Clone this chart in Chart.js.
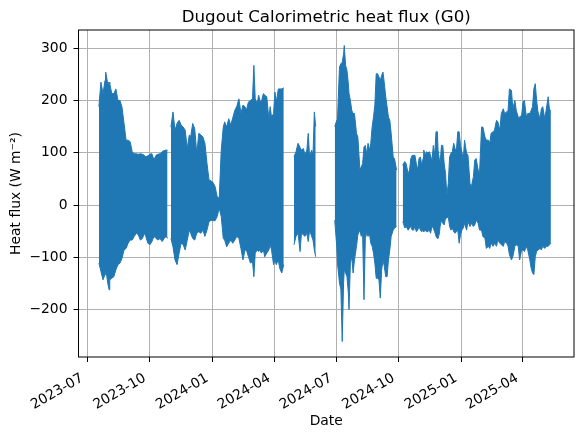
<!DOCTYPE html>
<html>
<head>
<meta charset="utf-8">
<title>Dugout Calorimetric heat flux (G0)</title>
<script src="https://cdn.jsdelivr.net/npm/chart.js@4.4.1/dist/chart.umd.min.js"></script>
<style>
  html, body { margin: 0; padding: 0; background: #fff; }
  #chart { display: block; }
</style>
</head>
<body>
<canvas id="chart" width="583" height="437"></canvas>
<script>
// ===== DATA (daily envelope of the half-hourly G0 record) =====
// null entries mark the gaps in the record
const dates = [
  '2023-07-18', '2023-07-21', '2023-07-24', '2023-07-27', '2023-07-28', '2023-07-31', '2023-08-02', '2023-08-03',
  '2023-08-06', '2023-08-09', '2023-08-12', '2023-08-15', '2023-08-18', '2023-08-21', '2023-08-24', '2023-08-27',
  '2023-08-30', '2023-09-02', '2023-09-05', '2023-09-08', '2023-09-11', '2023-09-14', '2023-09-17', '2023-09-20',
  '2023-09-23', '2023-09-25', '2023-09-28', '2023-10-01', '2023-10-04', '2023-10-07', '2023-10-10', '2023-10-13',
  '2023-10-16', '2023-10-19', '2023-10-22', '2023-10-25', '2023-10-27', '2023-10-29',
  '2023-11-01', '2023-11-04', '2023-11-07', '2023-11-10', '2023-11-13', '2023-11-16', '2023-11-19', '2023-11-22',
  '2023-11-25', '2023-11-28', '2023-11-30', '2023-12-03', '2023-12-06', '2023-12-09', '2023-12-12', '2023-12-15',
  '2023-12-18', '2023-12-21', '2023-12-24', '2023-12-27', '2023-12-30', '2024-01-02', '2024-01-05', '2024-01-08',
  '2024-01-11', '2024-01-14', '2024-01-17', '2024-01-19', '2024-01-22', '2024-01-25', '2024-01-28', '2024-01-31',
  '2024-02-03', '2024-02-06', '2024-02-09', '2024-02-12', '2024-02-15', '2024-02-18', '2024-02-20', '2024-02-23',
  '2024-02-26', '2024-02-29', '2024-03-02', '2024-03-04', '2024-03-07', '2024-03-09', '2024-03-11', '2024-03-13',
  '2024-03-16', '2024-03-18', '2024-03-21', '2024-03-24', '2024-03-26', '2024-03-28', '2024-03-31', '2024-04-02',
  '2024-04-04', '2024-04-07', '2024-04-09', '2024-04-12', '2024-04-15', '2024-04-22',
  '2024-04-30', '2024-05-03', '2024-05-06', '2024-05-09', '2024-05-11', '2024-05-14', '2024-05-16', '2024-05-19',
  '2024-05-21', '2024-05-23', '2024-05-26', '2024-05-28', '2024-05-30', '2024-06-01', '2024-06-15',
  '2024-06-29', '2024-07-02', '2024-07-03', '2024-07-05', '2024-07-06', '2024-07-08', '2024-07-10', '2024-07-12',
  '2024-07-13', '2024-07-15', '2024-07-17', '2024-07-19', '2024-07-20', '2024-07-22', '2024-07-24', '2024-07-26',
  '2024-07-28', '2024-07-31', '2024-08-02', '2024-08-05', '2024-08-07', '2024-08-09', '2024-08-11', '2024-08-13',
  '2024-08-15', '2024-08-17', '2024-08-19', '2024-08-21', '2024-08-23', '2024-08-25', '2024-08-27', '2024-08-29',
  '2024-08-31', '2024-09-02', '2024-09-04', '2024-09-06', '2024-09-08', '2024-09-10', '2024-09-12', '2024-09-14',
  '2024-09-16', '2024-09-18', '2024-09-20', '2024-09-23', '2024-09-25', '2024-09-28', '2024-10-03',
  '2024-10-07', '2024-10-08', '2024-10-10', '2024-10-12', '2024-10-15', '2024-10-17', '2024-10-19', '2024-10-21',
  '2024-10-23', '2024-10-25', '2024-10-27', '2024-10-29', '2024-10-31', '2024-11-02', '2024-11-04', '2024-11-06',
  '2024-11-07', '2024-11-09', '2024-11-11', '2024-11-13', '2024-11-15', '2024-11-17', '2024-11-19', '2024-11-21',
  '2024-11-23', '2024-11-25', '2024-11-27', '2024-11-28', '2024-11-30', '2024-12-01', '2024-12-03', '2024-12-05',
  '2024-12-07', '2024-12-09', '2024-12-11', '2024-12-13', '2024-12-15', '2024-12-17', '2024-12-19', '2024-12-21',
  '2024-12-23', '2024-12-25', '2024-12-27', '2024-12-29', '2024-12-31', '2025-01-02', '2025-01-04', '2025-01-06',
  '2025-01-09', '2025-01-11', '2025-01-14', '2025-01-16', '2025-01-19', '2025-01-21', '2025-01-23', '2025-01-26',
  '2025-01-28', '2025-01-31', '2025-02-02', '2025-02-05', '2025-02-07', '2025-02-10', '2025-02-12', '2025-02-14',
  '2025-02-17', '2025-02-19', '2025-02-22', '2025-02-24', '2025-02-27', '2025-03-01', '2025-03-04', '2025-03-06',
  '2025-03-09', '2025-03-11', '2025-03-13', '2025-03-16', '2025-03-18', '2025-03-21', '2025-03-23', '2025-03-26',
  '2025-03-28', '2025-03-31', '2025-04-02', '2025-04-04', '2025-04-07', '2025-04-09', '2025-04-12', '2025-04-14',
  '2025-04-16', '2025-04-18', '2025-04-20', '2025-04-22', '2025-04-24', '2025-04-27', '2025-04-29', '2025-05-01',
  '2025-05-04', '2025-05-06', '2025-05-09', '2025-05-11', '2025-05-13',
]

// daily maxima (W m-2)
const upperFlux = [
  188, 235, 213, 238, 254, 232, 235, 232, 213, 213, 222, 200, 200, 187, 156, 124,
  124, 121, 102, 98, 98, 97, 98, 97, 95, 92, 94, 97, 98, 86, 95, 97,
  98, 102, 104, 105, 105, null,
  149, 178, 143, 156, 162, 153, 149, 143, 108, 134, 130, 156, 146, 98, 137, 134,
  130, 118, 80, 48, 46, 43, 35, 16, 13, 105, 149, 159, 149, 165, 153, 167,
  181, 189, 203, 175, 191, 188, 181, 197, 200, 203, 267, 203, 194, 210, 200, 197,
  213, 210, 207, 165, 188, 168, 175, 216, 197, 222, 222, 222, 224, null,
  92, 102, 118, 110, 105, 108, 96, 105, 137, 92, 105, 96, 178, 150, null,
  150, 162, 162, 232, 264, 270, 273, 289, 305, 267, 257, 232, 213, 200, 181, 175,
  175, 137, 130, 67, 73, 79, 111, 114, 98, 118, 105, 118, 149, 168, 191, 251,
  251, 245, 238, 248, 254, 232, 207, 188, 168, 162, 137, 92, 88, 67, null,
  76, 79, 83, 79, 60, 67, 89, 95, 95, 95, 79, 67, 89, 92, 76, 89,
  105, 95, 102, 99, 102, 95, 83, 114, 95, 140, 140, 105, 86, 79, 114, 114,
  79, 60, 18, 41, 92, 99, 102, 118, 108, 105, 140, 140, 114, 102, 86, 124,
  99, 95, 41, 35, 54, 86, 89, 67, 60, 149, 149, 130, 124, 124, 118, 137,
  140, 143, 162, 159, 143, 175, 184, 175, 178, 181, 222, 219, 184, 200, 181, 168,
  168, 172, 197, 200, 168, 175, 175, 181, 188, 222, 232, 200, 178, 165, 184, 188,
  165, 181, 207, 181, 181,
]

// daily minima (W m-2)
const lowerFlux = [
  -111, -127, -143, -133, -121, -149, -162, -143, -140, -137, -124, -114, -111, -102, -86, -83,
  -73, -67, -67, -60, -54, -57, -67, -64, -54, -60, -73, -76, -70, -60, -64, -67,
  -64, -70, -64, -60, -64, null,
  -64, -80, -105, -114, -92, -73, -76, -86, -67, -48, -54, -64, -67, -54, -51, -54,
  -48, -60, -48, -32, -29, -30, -30, -22, -6, -22, -64, -67, -80, -73, -67, -73,
  -67, -60, -64, -83, -105, -86, -86, -99, -111, -108, -137, -92, -86, -89, -86, -92,
  -86, -99, -92, -86, -76, -86, -114, -105, -114, -105, -121, -130, -114, null,
  -76, -60, -54, -89, -54, -57, -60, -54, -70, -48, -60, -67, -86, -99, null,
  -29, -80, -111, -137, -149, -162, -261, -149, -124, -130, -137, -168, -200, -111, -99, -130,
  -105, -79, -57, -48, -60, -54, -181, -64, -54, -60, -54, -73, -79, -92, -111, -140,
  -140, -143, -178, -124, -105, -118, -137, -137, -105, -86, -60, -48, -44, -41, null,
  -32, -35, -44, -41, -48, -44, -41, -48, -48, -41, -51, -48, -41, -48, -51, -48,
  -51, -48, -51, -51, -48, -54, -41, -44, -51, -60, -64, -64, -54, -41, -29, -35,
  -38, -25, -25, -22, -41, -48, -44, -51, -54, -51, -48, -73, -57, -48, -44, -35,
  -48, -32, -41, -35, -41, -38, -29, -35, -48, -48, -60, -64, -83, -79, -83, -73,
  -79, -73, -79, -67, -73, -76, -79, -70, -73, -79, -95, -105, -99, -79, -76, -79,
  -105, -86, -86, -89, -79, -86, -105, -121, -130, -133, -99, -89, -86, -83, -86, -79,
  -83, -79, -79, -76, -73,
]

const xTickLabels = ['2023-07', '2023-10', '2024-01', '2024-04', '2024-07', '2024-10', '2025-01', '2025-04']
const yTicks = [-200, -100, 0, 100, 200, 300]
const xRange = ['2023-06-18', '2025-06-16']
const yRange = [-290.6, 334.6]

const BLUE = '#1f77b4'
const FONT = 'DejaVu Sans'

// ===== HELPERS =====
function toDay(s) {
  const p = s.split('-').map(Number)
  return Date.UTC(p[0], p[1] - 1, p[2] || 1) / 86400000
}

function minusSign(v) {
  return v < 0 ? '\u2212' + Math.abs(v) : String(v)
}

const upperPoints = dates.map((d, i) => ({ x: toDay(d), y: upperFlux[i] }))
const lowerPoints = dates.map((d, i) => ({ x: toDay(d), y: lowerFlux[i] }))

// black box around the plot area, like the matplotlib spines
const framePlugin = {
  id: 'frame',
  afterDatasetsDraw(chart) {
    const { ctx, chartArea: a } = chart
    ctx.save()
    ctx.strokeStyle = '#000'
    ctx.lineWidth = 1
    ctx.strokeRect(a.left, a.top, a.right - a.left, a.bottom - a.top)
    ctx.restore()
  },
}

Chart.defaults.color = '#000'
Chart.defaults.font.family = FONT

// ===== CHART =====
new Chart(document.getElementById('chart'), {
  type: 'line',
  data: {
    datasets: [
      {
        label: 'G0 max',
        data: upperPoints,
        borderColor: BLUE,
        borderWidth: 1,
        pointRadius: 0,
        spanGaps: false,
        fill: false,
      },
      {
        label: 'G0 min',
        data: lowerPoints,
        borderColor: BLUE,
        backgroundColor: BLUE,
        borderWidth: 1,
        pointRadius: 0,
        spanGaps: false,
        fill: '-1',
      },
    ],
  },
  options: {
    responsive: false,
    animation: false,
    devicePixelRatio: 1,
    layout: { padding: { top: 0, right: 9, bottom: 0, left: 0 } },
    plugins: {
      legend: { display: false },
      tooltip: { enabled: false },
      title: {
        display: true,
        text: 'Dugout Calorimetric heat flux (G0)',
        fullSize: false,
        color: '#000',
        font: { family: FONT, size: 16.67, weight: 'normal' },
        padding: { top: 7.5, bottom: 2.5 },
      },
    },
    scales: {
      x: {
        type: 'linear',
        min: toDay(xRange[0]),
        max: toDay(xRange[1]),
        afterBuildTicks: (scale) => {
          scale.ticks = xTickLabels.map((l) => ({ value: toDay(l) }))
        },
        afterFit: (scale) => {
          scale.height = 80
        },
        border: { display: false },
        grid: {
          color: '#b0b0b0',
          lineWidth: 1,
          tickColor: '#000',
          tickLength: 5,
          tickWidth: 1,
        },
        ticks: {
          autoSkip: false,
          minRotation: 30,
          maxRotation: 30,
          padding: 8,
          labelOffset: -5,
          font: { size: 13.89 },
          callback: (value, index) => xTickLabels[index],
        },
        title: {
          display: true,
          text: 'Date',
          font: { size: 13.89 },
          padding: { top: 0, bottom: 7.5 },
        },
      },
      y: {
        min: yRange[0],
        max: yRange[1],
        afterBuildTicks: (scale) => {
          scale.ticks = yTicks.map((v) => ({ value: v }))
        },
        afterFit: (scale) => {
          scale.width = 78.5
        },
        border: { display: false },
        grid: {
          color: '#b0b0b0',
          lineWidth: 1,
          tickColor: '#000',
          tickLength: 5,
          tickWidth: 1,
        },
        ticks: {
          autoSkip: false,
          padding: 6,
          font: { size: 13.89 },
          callback: (value) => minusSign(value),
        },
        title: {
          display: true,
          text: 'Heat flux (W m\u207B\u00B2)',
          font: { size: 13.89 },
          padding: { top: 8, bottom: 0 },
        },
      },
    },
  },
  plugins: [framePlugin],
})
</script>
</body>
</html>
